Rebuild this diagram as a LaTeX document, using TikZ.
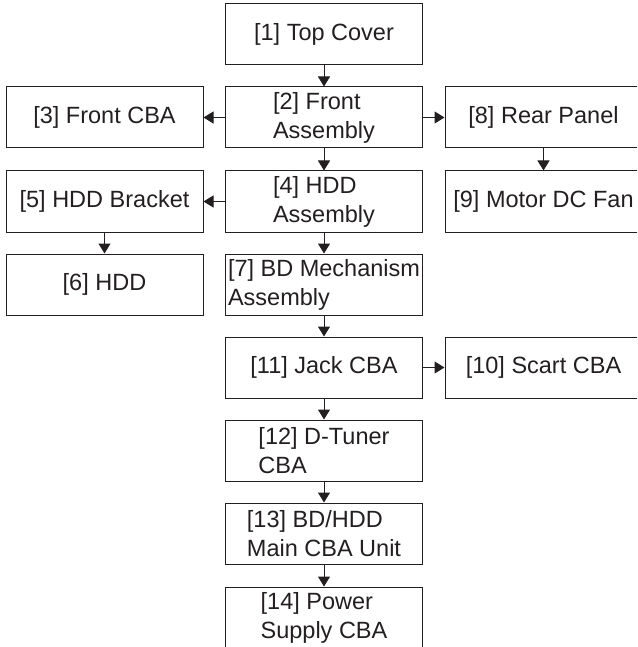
\documentclass[tikz,border=0pt]{standalone}
\usepackage{fontspec}
\setmainfont{Liberation Sans}
\usetikzlibrary{arrows.meta}
\definecolor{ink}{HTML}{231F20}
\tikzset{
  box/.style={draw=ink, line width=1pt, rectangle, minimum width=197pt, minimum height=61pt,
    inner xsep=2pt, inner ysep=1pt, align=left, text=ink,
    font=\fontsize{23.5}{29}\selectfont},
  link/.style={draw=ink, line width=1pt, -{Triangle[width=12pt,length=10pt]}}
}
\begin{document}
\begin{tikzpicture}[x=1pt,y=-1pt]
\clip (0,0) rectangle (637,647);
\node[box] (n1)  at (324,34.5)  {[1] Top Cover};
\node[box] (n2)  at (324,117.5) {[2] Front\\Assembly};
\node[box] (n3)  at (104.5,117.5) {[3] Front CBA};
\node[box] (n8)  at (543.5,117.5) {[8] Rear Panel};
\node[box] (n4)  at (324,201.5) {[4] HDD\\Assembly};
\node[box] (n5)  at (104.5,201.5) {[5] HDD Bracket};
\node[box] (n9)  at (543.5,201.5) {[9] Motor DC Fan};
\node[box] (n7)  at (324,284.5) {[7] BD Mechanism\\Assembly};
\node[box] (n6)  at (104.5,284.5) {[6] HDD};
\node[box] (n11) at (324,367.5) {[11] Jack CBA};
\node[box] (n10) at (543.5,367.5) {[10] Scart CBA};
\node[box] (n12) at (324,450.5) {[12] D-Tuner\\CBA};
\node[box] (n13) at (324,533.5) {[13] BD/HDD\\Main CBA Unit};
\node[box] (n14) at (324,617.5) {[14] Power\\Supply CBA};
\draw[link] (n1) -- (n2);
\draw[link] (n2) -- (n3);
\draw[link] (n2) -- (n8);
\draw[link] (n2) -- (n4);
\draw[link] (n8) -- (n9);
\draw[link] (n4) -- (n5);
\draw[link] (n4) -- (n7);
\draw[link] (n5) -- (n6);
\draw[link] (n7) -- (n11);
\draw[link] (n11) -- (n10);
\draw[link] (n11) -- (n12);
\draw[link] (n12) -- (n13);
\draw[link] (n13) -- (n14);
\end{tikzpicture}
\end{document}
